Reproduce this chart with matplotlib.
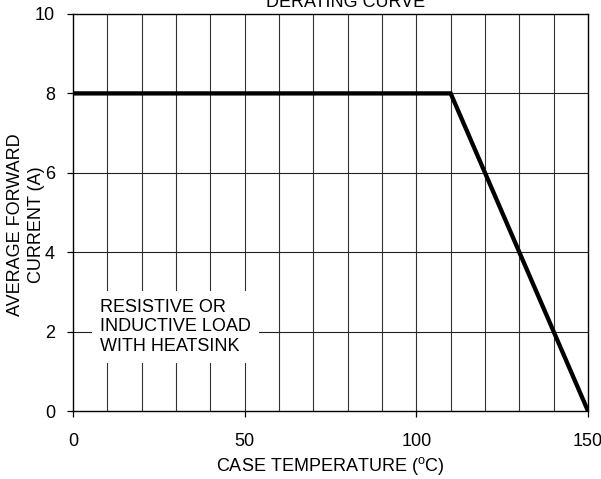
import matplotlib
matplotlib.use("Agg")
import matplotlib.pyplot as plt

# derating curve: case temperature (C) vs average forward current (A)
temp = [0, 110, 150]
current = [8, 8, 0]

x_ticks = [0, 50, 100, 150]
y_ticks = [0, 2, 4, 6, 8, 10]
x_grid = list(range(10, 150, 10))
y_grid = [2, 4, 6, 8]

plt.rcParams['font.family'] = ['Liberation Sans', 'DejaVu Sans']
plt.rcParams['mathtext.fontset'] = 'custom'
plt.rcParams['mathtext.rm'] = 'Liberation Sans'
plt.rcParams['font.size'] = 13


def main():
   fig = plt.figure(figsize=(6.01, 4.79), dpi=100)
   W, H = 601, 479
   ax = fig.add_axes([73 / W, 1 - 411 / H, (588 - 73) / W, (411 - 14) / H])

   # grid
   for x in x_grid:
      ax.axvline(x, color='#333333', lw=0.8, zorder=1)
   for y in y_grid:
      ax.axhline(y, color='#222222', lw=0.8, zorder=1)

   ax.plot(temp, current, color='black', lw=3.1, zorder=3, solid_joinstyle='miter')

   ax.set_xlim(0, 150)
   ax.set_ylim(0, 10)
   ax.set_xticks(x_ticks)
   ax.set_yticks(y_ticks)
   ax.tick_params(axis='x', direction='out', length=4.5, width=0.9, pad=11)
   ax.tick_params(axis='y', direction='out', length=4.5, width=0.9, pad=8.5)
   for s in ax.spines.values():
      s.set_linewidth(1.0)
      s.set_zorder(4)

   ax.text(8, 2.12, "RESISTIVE OR\nINDUCTIVE LOAD\nWITH HEATSINK", ha='left', va='center',
           linespacing=1.2, zorder=2,
           bbox=dict(facecolor='white', edgecolor='none', boxstyle='square,pad=0.45'))

   fig.text(330 / W, 1 - 466 / H, r"CASE TEMPERATURE ($\mathregular{^o}$C)", ha='center', va='center')
   fig.text(26 / W, 1 - 225 / H, "AVERAGE FORWARD\nCURRENT (A)", rotation=90,
            ha='center', va='center', multialignment='center', linespacing=1.25)
   fig.text(346 / W, 1 - 7 / H, "DERATING CURVE", ha='center', va='baseline')

   fig.savefig("out.png", dpi=100)


if __name__ == "__main__":
   main()
